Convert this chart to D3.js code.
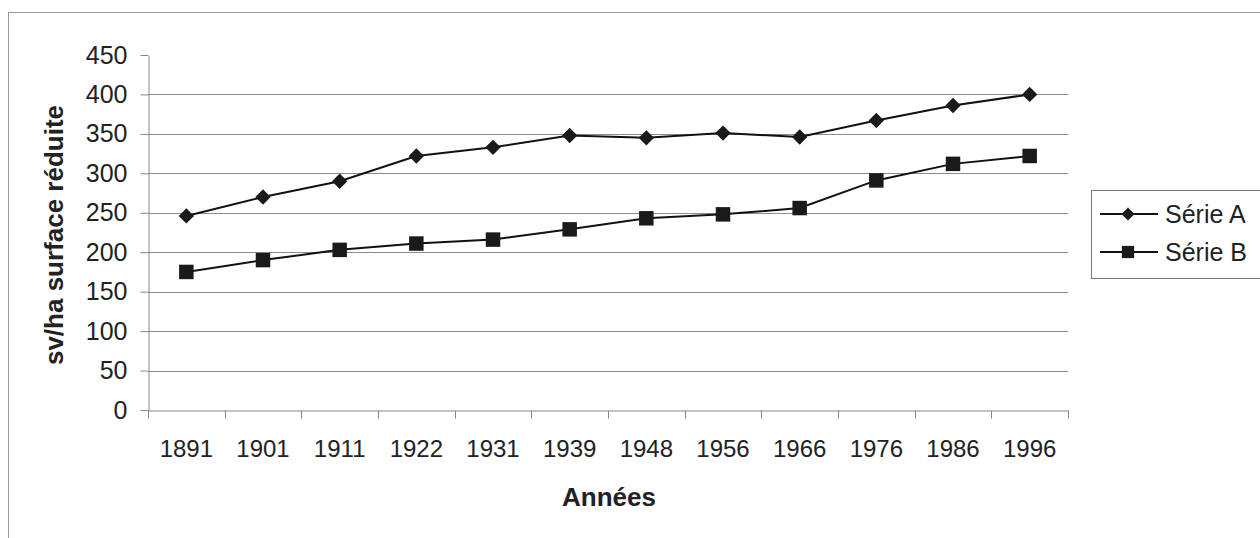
<!DOCTYPE html>
<html>
<head>
<meta charset="utf-8">
<script src="https://cdn.jsdelivr.net/npm/d3@7"></script>
<style>
  body { margin: 0; background: #fff; }
  svg text { font-family: Arial, "Liberation Sans", sans-serif; fill: #222; }
</style>
</head>
<body>
<svg id="chart" width="1260" height="538"></svg>
<script>
var years = ["1891", "1901", "1911", "1922", "1931", "1939", "1948", "1956", "1966", "1976", "1986", "1996"];
var serieA = [246, 270, 290, 322, 333, 348, 345, 351, 346, 367, 386, 400];
var serieB = [175, 190, 203, 211, 216, 229, 243, 248, 256, 291, 312, 322];
var seriesNames = ["Série A", "Série B"];
var yTicks = [0, 50, 100, 150, 200, 250, 300, 350, 400, 450];

var svg = d3.select("svg#chart");

var plotLeft = 148, plotRight = 1068, plotTop = 55, plotBottom = 410;

var x = d3.scaleBand().domain(years).range([plotLeft, plotRight]);
var y = d3.scaleLinear().domain([0, 450]).range([plotBottom, plotTop]);

// outer frame (runs off the page on the right and bottom)
svg.append("rect")
   .attr("x", 8.5).attr("y", 12.5)
   .attr("width", 1300).attr("height", 600)
   .attr("fill", "none").attr("stroke", "#999").attr("stroke-width", 1);

// gridlines
svg.append("g")
   .selectAll("line")
   .data(yTicks.filter(function(d) { return d > 0 && d < 450; }))
   .enter().append("line")
   .attr("x1", plotLeft).attr("x2", plotRight)
   .attr("y1", function(d) { return Math.round(y(d)) + 0.5; })
   .attr("y2", function(d) { return Math.round(y(d)) + 0.5; })
   .attr("stroke", "#8c8c8c").attr("stroke-width", 1);

// y axis
var yAxis = svg.append("g")
   .attr("transform", "translate(" + (plotLeft + 0.5) + ",0)")
   .call(d3.axisLeft(y).tickValues(yTicks).tickSize(8).tickSizeOuter(0).tickPadding(13));
yAxis.selectAll("path, line").attr("stroke", "#888");
yAxis.selectAll("text").attr("font-size", 25).attr("fill", "#222")
     .style("font-family", "Arial, 'Liberation Sans', sans-serif");

// x axis, ticks between categories
var xAxis = svg.append("g")
   .attr("transform", "translate(0," + (Math.round(plotBottom) + 0.5) + ")")
   .call(d3.axisBottom(x).tickSize(0).tickPadding(29));
xAxis.select("path").attr("stroke", "#888");
xAxis.selectAll("text").attr("font-size", 24).attr("fill", "#222")
     .style("font-family", "Arial, 'Liberation Sans', sans-serif");
xAxis.selectAll("line.sep")
   .data(d3.range(years.length + 1))
   .enter().append("line")
   .attr("class", "sep")
   .attr("x1", function(i) { return Math.round(plotLeft + i * x.step()) + 0.5; })
   .attr("x2", function(i) { return Math.round(plotLeft + i * x.step()) + 0.5; })
   .attr("y1", 0).attr("y2", 8)
   .attr("stroke", "#888");

// axis titles
svg.append("text")
   .attr("transform", "translate(63,235) rotate(-90)")
   .attr("text-anchor", "middle")
   .attr("font-size", 26).attr("font-weight", "bold")
   .text("sv/ha surface réduite");

svg.append("text")
   .attr("x", 609).attr("y", 506)
   .attr("text-anchor", "middle")
   .attr("font-size", 26).attr("font-weight", "bold")
   .text("Années");

var cx = function(d, i) { return x(years[i]) + x.bandwidth() / 2; };
var line = d3.line()
   .x(function(d, i) { return cx(d, i); })
   .y(function(d) { return y(d); });

var diamond = d3.symbol().type(d3.symbolDiamond2);
var square = d3.symbol().type(d3.symbolSquare);

[serieA, serieB].forEach(function(vals, k) {
  svg.append("path")
     .datum(vals)
     .attr("d", line)
     .attr("fill", "none").attr("stroke", "#111").attr("stroke-width", 2);
  svg.append("g")
     .selectAll("path")
     .data(vals)
     .enter().append("path")
     .attr("transform", function(d, i) { return "translate(" + cx(d, i) + "," + y(d) + ")"; })
     .attr("d", k === 0 ? diamond.size(150)() : square.size(210)())
     .attr("fill", "#1a1a1a");
});

// legend
var legend = svg.append("g");
legend.append("rect")
   .attr("x", 1091.5).attr("y", 190.5)
   .attr("width", 200).attr("height", 88)
   .attr("fill", "#fff").attr("stroke", "#777");

var legendY = [214, 252];
seriesNames.forEach(function(name, k) {
  legend.append("line")
     .attr("x1", 1100).attr("x2", 1158)
     .attr("y1", legendY[k]).attr("y2", legendY[k])
     .attr("stroke", "#111").attr("stroke-width", 2);
  legend.append("path")
     .attr("transform", "translate(1128," + legendY[k] + ")")
     .attr("d", k === 0 ? diamond.size(110)() : square.size(150)())
     .attr("fill", "#1a1a1a");
  legend.append("text")
     .attr("x", 1165).attr("y", legendY[k])
     .attr("dy", "0.35em")
     .attr("font-size", 25)
     .text(name);
});
</script>
</body>
</html>
